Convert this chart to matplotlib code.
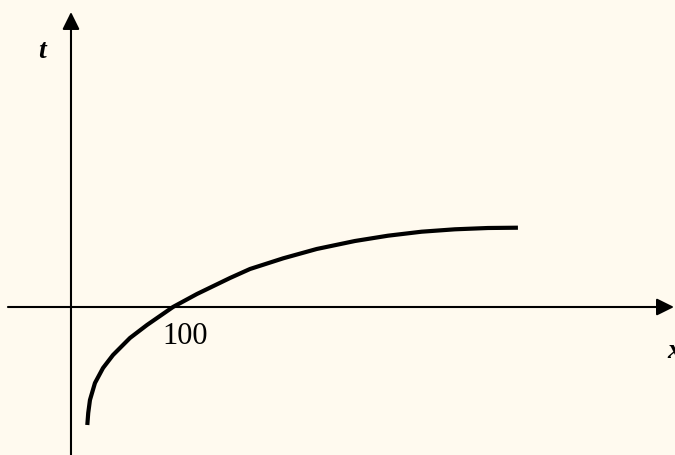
import matplotlib.pyplot as plt
import numpy as np

# curve (x in units, t in arbitrary units)
x_vals = [16.0, 16.9, 18.6, 23.5, 31.4, 41.2, 57.8, 74.5, 100.0, 123.5, 155.9,
          175.5, 208.1, 240.9, 278.4, 310.8, 343.8, 376.5, 408.8, 438.2]
t_vals = [-1.18, -1.06, -0.93, -0.76, -0.61, -0.48, -0.31, -0.18, 0.0, 0.13, 0.29,
          0.38, 0.487, 0.58, 0.66, 0.713, 0.753, 0.777, 0.79, 0.793]
tick_label = '100'
tick_pos = 100

bg = '#FFFAEF'
fig = plt.figure(figsize=(6.75, 4.55), dpi=100, facecolor=bg)
ax = fig.add_axes([0, 0, 1, 1])
ax.set_facecolor(bg)
ax.set_xlim(-69.6, 592.2)
ax.set_ylim(-1.48, 3.07)
ax.axis('off')

arrow = dict(arrowstyle='-|>,head_length=1.05,head_width=0.52', color='black',
             lw=1.5, mutation_scale=10, shrinkA=0, shrinkB=0)
ax.annotate('', xy=(591.2, 0), xytext=(-61.8, 0), arrowprops=arrow)
ax.annotate('', xy=(0, 2.95), xytext=(0, -1.48), arrowprops=arrow)

ax.plot(x_vals, t_vals, color='black', lw=3.0, solid_capstyle='butt',
        solid_joinstyle='round')

serif = ['Liberation Serif', 'DejaVu Serif']
ax.text(-28.4, 2.56, 't', fontsize=20, fontstyle='italic', fontweight='bold',
        family=serif, ha='center', va='center')
ax.text(584.3, -0.45, 'x', fontsize=20, fontstyle='italic', fontweight='bold',
        family=serif, ha='left', va='center')
ax.text(tick_pos + 11.8, -0.29, tick_label, fontsize=22, family=serif,
        ha='center', va='center')

fig.savefig('out.png', dpi=100, facecolor=bg)
